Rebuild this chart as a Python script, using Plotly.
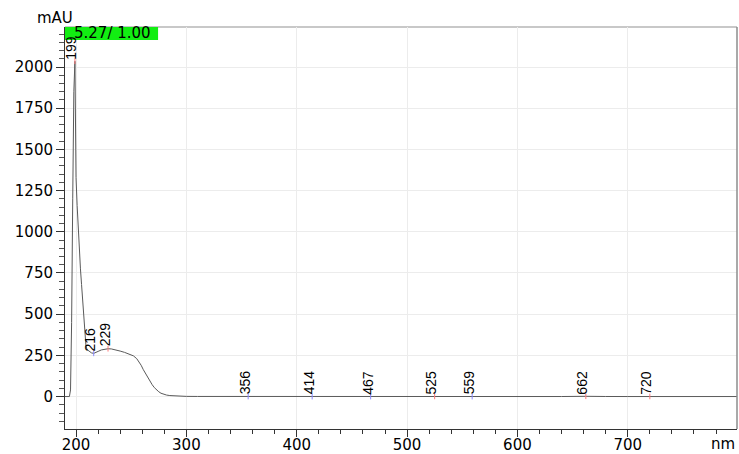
import plotly.graph_objects as go

# UV-Vis absorbance spectrum (wavelength in nm, absorbance in mAU)
wavelength = [190, 193, 194, 195, 196, 197, 198, 199, 200, 201, 202, 203, 204, 205,
              206, 207, 208, 209, 210, 212, 214, 216, 218, 220, 223, 226, 229, 232,
              236, 240, 244, 248, 252, 255, 257, 259, 261, 263, 265, 267, 269, 271,
              273, 275, 277, 279, 282, 285, 290, 295, 300, 310, 330, 356, 380, 400,
              414, 440, 467, 500, 525, 540, 559, 580, 600, 620, 640, 662, 670, 680,
              700, 720, 740, 760, 780, 799]
absorbance = [0, 0, 0, 40, 450, 1200, 1850, 2035, 1330, 1160, 1000, 880, 775, 680,
              590, 470, 370, 305, 285, 272, 265, 262, 266, 274, 283, 288, 290, 289,
              284, 276, 268, 259, 247, 230, 212, 190, 163, 138, 115, 93, 72, 54,
              40, 29, 20, 14, 9, 6, 3, 2, 1, 0.6, 0.3, 0.1, 0, -0.2,
              -0.5, 0, -0.3, 0.2, 0.5, 0.2, -0.4, 0, 0.3, 0.2, 0.1, 1.5, -0.5, 0.3,
              0, 0.5, 0.2, 0, 0.1, 0]

# Detected extrema: wavelength and type (max / min)
peak_nm = [199, 216, 229, 356, 414, 467, 525, 559, 662, 720]
peak_kind = ["max", "min", "max", "min", "min", "min", "max", "min", "max", "max"]

header_text = "5.27/ 1.00"

lookup = dict(zip(wavelength, absorbance))
peak_au = [lookup[n] for n in peak_nm]
kind_color = {"max": "#ff7a7a", "min": "#8a8aff"}

fig = go.Figure()
fig.add_trace(go.Scatter(
    x=wavelength, y=absorbance, mode="lines",
    line=dict(color="#5a5a5a", width=1), hoverinfo="skip", showlegend=False,
))
fig.add_trace(go.Scatter(
    x=peak_nm, y=peak_au, mode="markers",
    marker=dict(symbol="line-ns", size=4,
                line=dict(width=1, color=[kind_color[k] for k in peak_kind])),
    showlegend=False, hoverinfo="skip",
))

label_font = dict(family="Liberation Sans, Arial", size=14, color="black")
for n, v in zip(peak_nm, peak_au):
    fig.add_annotation(
        x=n, y=v, text=str(n), textangle=-90, showarrow=False,
        xanchor="center", yanchor="bottom", xshift=-3.5, yshift=0,
        font=label_font,
    )

tick_font = dict(family="DejaVu Sans", size=15, color="black")

# axis captions and header box
fig.add_annotation(xref="paper", yref="paper", x=-0.015, y=1.0, yshift=-2,
                   text="mAU", showarrow=False, xanchor="center", yanchor="bottom",
                   font=tick_font)
fig.add_annotation(xref="paper", yref="paper", x=1.0, y=0, xshift=-1, yshift=-25,
                   text="nm", showarrow=False, xanchor="right", yanchor="bottom",
                   borderpad=0, font=tick_font)
fig.add_shape(type="rect", xref="paper", yref="paper", x0=0, x1=0.1385,
              y0=1 - 13 / 402, y1=1, fillcolor="#12ee12", line=dict(width=0),
              layer="above")
fig.add_annotation(xref="paper", yref="paper", x=0.07, y=1 - 6.5 / 402,
                   text=header_text, showarrow=False, xanchor="center",
                   yanchor="middle", font=dict(family="DejaVu Sans", size=15, color="black"))

# frame lines on top and right
fig.add_shape(type="line", xref="paper", yref="paper", x0=0, x1=1, y0=1, y1=1,
              line=dict(color="#c8c8c8", width=2), layer="below")
fig.add_shape(type="line", xref="paper", yref="paper", x0=1, x1=1, y0=0, y1=1,
              line=dict(color="#8c8c8c", width=1.5))

fig.update_xaxes(
    range=[190, 799], tick0=0, dtick=100, ticks="outside", ticklen=7,
    tickcolor="#333", showline=True, linecolor="#333", linewidth=1,
    showgrid=True, gridcolor="#ececec", gridwidth=1, zeroline=False,
    tickfont=tick_font, automargin=False, ticklabelstandoff=-5,
    minor=dict(dtick=20, tick0=0, ticks="outside", ticklen=4, tickcolor="#333",
               showgrid=False),
)
fig.update_yaxes(
    range=[-197, 2243], tick0=0, dtick=250, ticks="outside", ticklen=8,
    tickcolor="#333", showline=True, linecolor="#333", linewidth=1,
    showgrid=True, gridcolor="#ececec", gridwidth=1,
    zeroline=True, zerolinecolor="#ececec", zerolinewidth=1,
    tickfont=tick_font, automargin=False,
    minor=dict(dtick=50, tick0=0, ticks="outside", ticklen=5, tickcolor="#555",
               showgrid=False),
)

fig.update_layout(
    width=739, height=454,
    margin=dict(l=65, r=2, t=27, b=25),
    plot_bgcolor="white", paper_bgcolor="white",
    showlegend=False,
)

fig.write_html("out.html")
